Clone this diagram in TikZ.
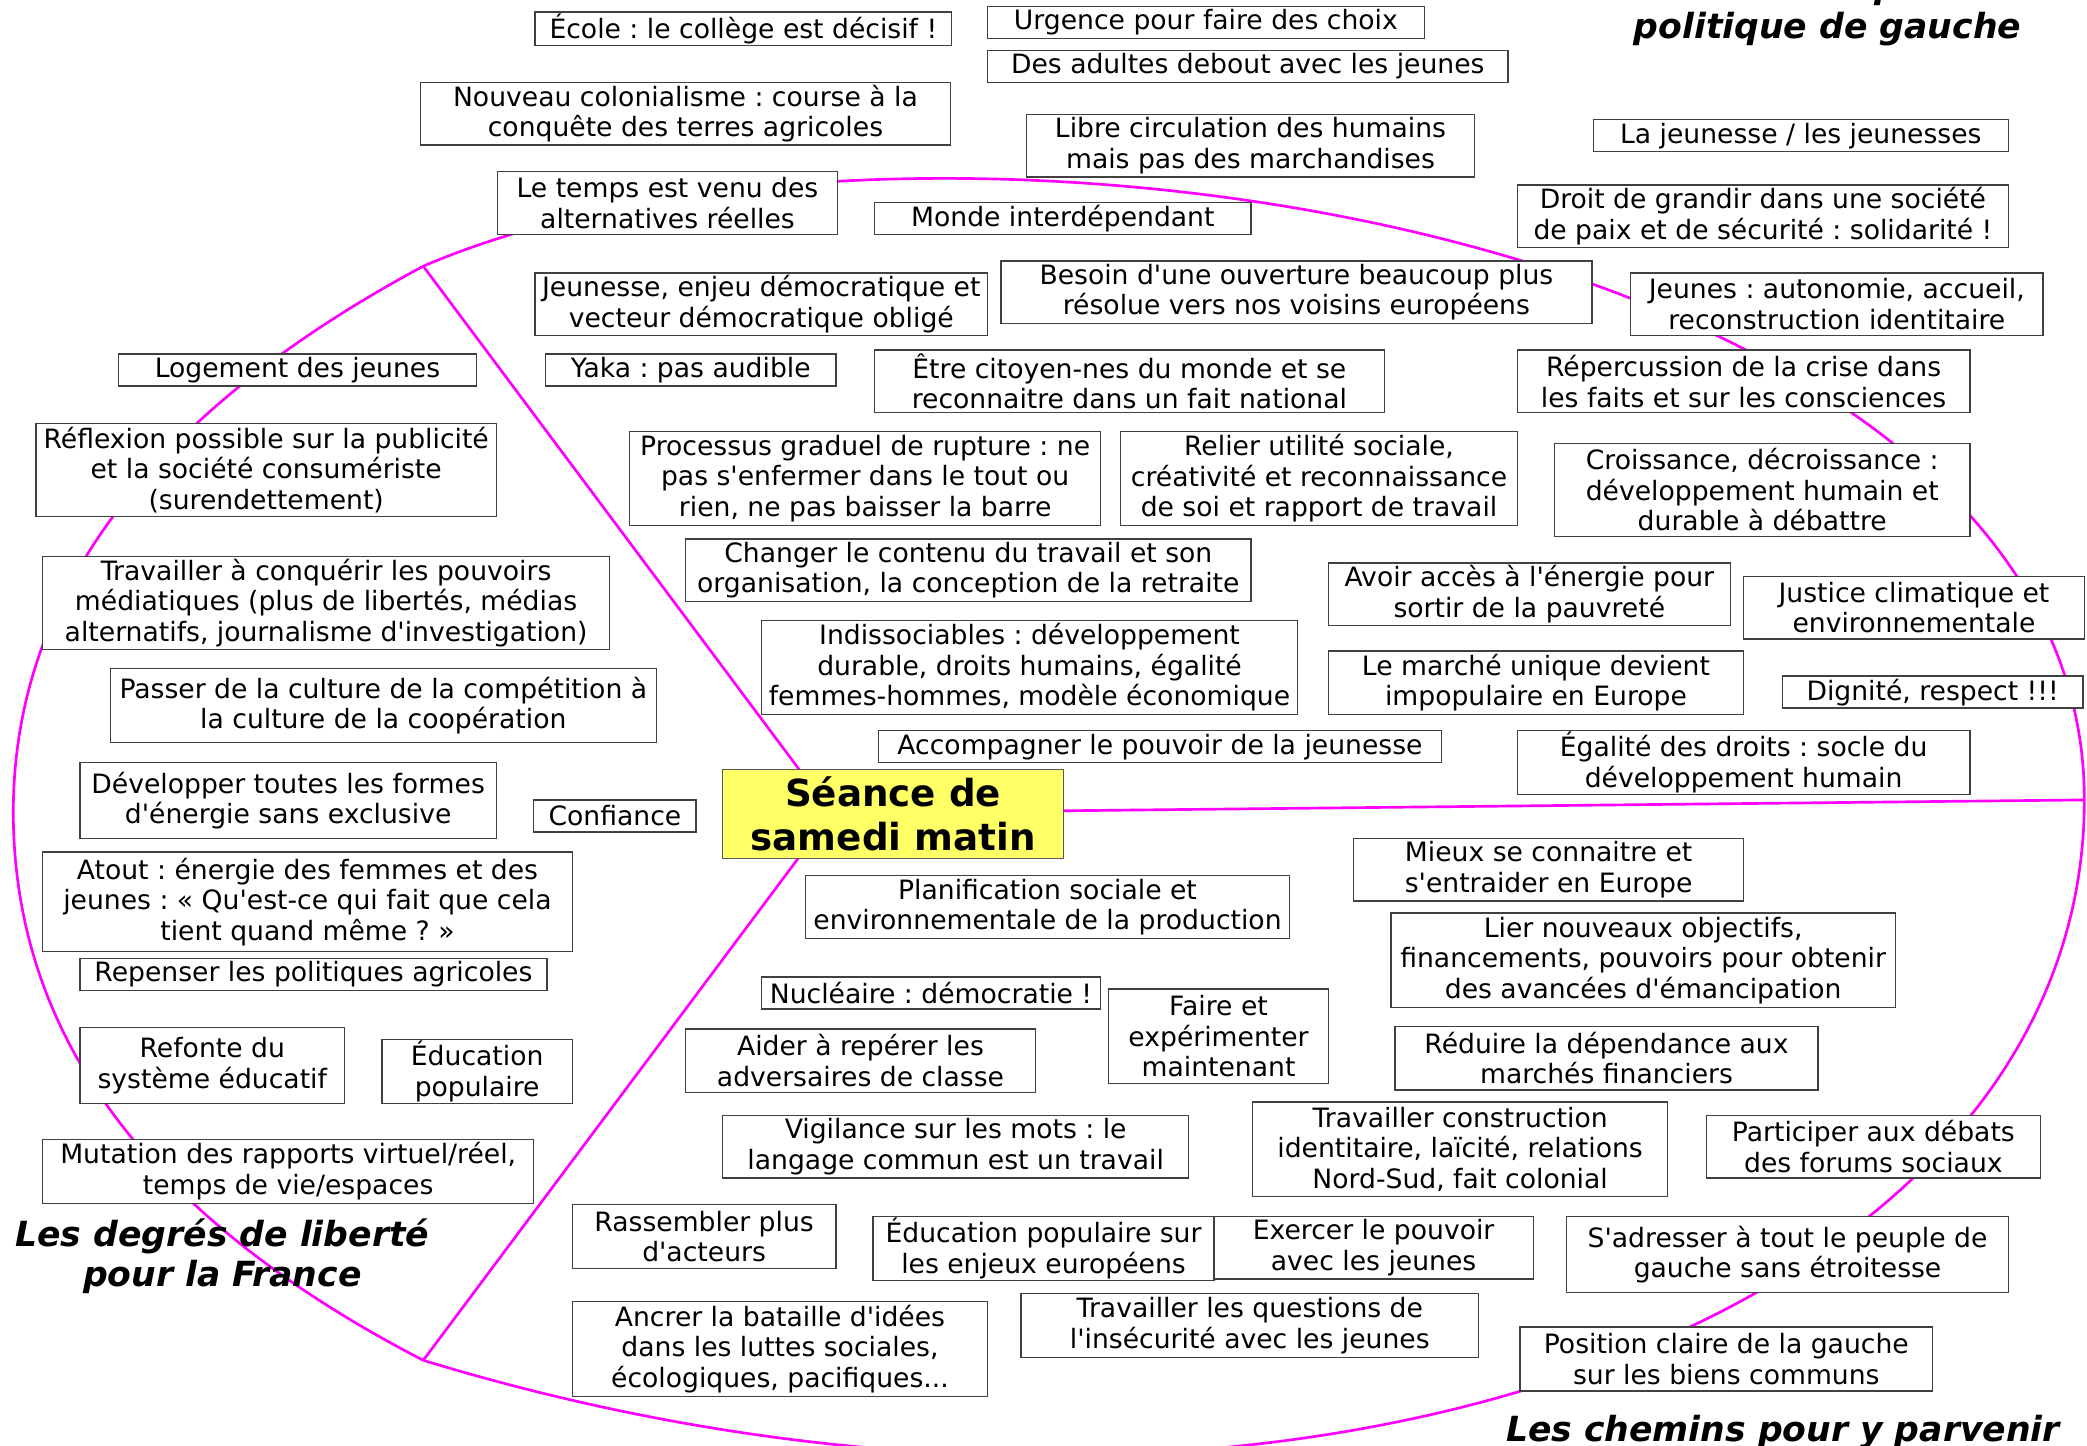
\documentclass[tikz,border=0pt]{standalone}
\usepackage{fontspec}
\setmainfont{DejaVu Sans}[Ligatures=TeXOff, BoldFont={DejaVu Sans Bold}, ItalicFont={DejaVu Sans Oblique}, BoldItalicFont={DejaVu Sans Bold Oblique}]
\definecolor{jaune}{HTML}{FFFF66}
\definecolor{branchecol}{HTML}{FF00FF}
\frenchspacing
\begin{document}
\begin{tikzpicture}[x=1pt, y=-1pt,
  idee/.style 2 args={draw=black!75, line width=1pt, fill=white, align=center, inner xsep=2pt, inner ysep=0pt,
    minimum width=#1pt, minimum height=#2pt, font=\fontsize{20}{23}\selectfont},
  centre/.style={draw=black!65, line width=1pt, fill=jaune, align=center, inner sep=0pt,
    minimum width=256pt, minimum height=67pt, font=\bfseries\fontsize{28}{33}\selectfont},
  titre/.style={align=center, inner sep=0pt, font=\bfseries\itshape\fontsize{26}{30}\selectfont},
  branche/.style={draw=branchecol, line width=2pt}]
\useasboundingbox (0,0) rectangle (1568,1086.4);
\coordinate (jtop) at (318,200);
\coordinate (jright) at (1566,601);
\coordinate (jbot) at (318,1022);
\coordinate (jleft) at (10,610);
\coordinate (hub) at (625,611);
\draw[branche] (jtop) .. controls (690,40) and (1566,170) .. (jright);
\draw[branche] (jright) .. controls (1566,1000) and (950,1215) .. (jbot);
\draw[branche] (jbot) .. controls (140,930) and (10,800) .. (jleft) .. controls (10,420) and (150,290) .. (jtop);
\draw[branche] (hub) -- (jtop);
\draw[branche] (hub) -- (jbot);
\draw[branche] (hub) -- (jright);
\node[idee={313}{25}] (ecole) at (558.5,21.5) {École : le collège est décisif !};
\node[idee={328}{24}] (urgence) at (906,17) {Urgence pour faire des choix};
\node[idee={391}{24}] (adultes) at (937.5,50) {Des adultes debout avec les jeunes};
\node[idee={398}{47}] (colonial) at (515,85.5) {Nouveau colonialisme : course à la\\conquête des terres agricoles};
\node[idee={337}{47}] (circulation) at (939.5,109.5) {Libre circulation des humains\\mais pas des marchandises};
\node[idee={312}{24}] (jeunesses) at (1353,102) {La jeunesse / les jeunesses};
\node[idee={255}{47}] (temps) at (501.5,152.5) {Le temps est venu des\\alternatives réelles};
\node[idee={283}{24}] (monde) at (798.5,164) {Monde interdépendant};
\node[idee={369}{47}] (grandir) at (1324.5,162.5) {Droit de grandir dans une société\\de paix et de sécurité : solidarité !};
\node[idee={340}{47}] (enjeu) at (572,228.5) {Jeunesse, enjeu démocratique et\\vecteur démocratique obligé};
\node[idee={444}{47}] (ouverture) at (974,219.5) {Besoin d'une ouverture beaucoup plus\\résolue vers nos voisins européens};
\node[idee={310}{47}] (autonomie) at (1380,228.5) {Jeunes : autonomie, accueil,\\reconstruction identitaire};
\node[idee={269}{24}] (logement) at (223.5,278) {Logement des jeunes};
\node[idee={218}{24}] (yaka) at (519,278) {Yaka : pas audible};
\node[idee={383}{47}] (citoyen) at (848.5,286.5) {Être citoyen-nes du monde et se\\reconnaitre dans un fait national};
\node[idee={340}{47}] (crise) at (1310,286.5) {Répercussion de la crise dans\\les faits et sur les consciences};
\node[idee={346}{70}] (publicite) at (200,353) {Réflexion possible sur la publicité\\et la société consumériste\\(surendettement)};
\node[idee={354}{71}] (rupture) at (650,359.5) {Processus graduel de rupture : ne\\pas s'enfermer dans le tout ou\\rien, ne pas baisser la barre};
\node[idee={298}{71}] (utilite) at (991,359.5) {Relier utilité sociale,\\créativité et reconnaissance\\de soi et rapport de travail};
\node[idee={312}{70}] (croissance) at (1324,368) {Croissance, décroissance :\\développement humain et\\durable à débattre};
\node[idee={426}{70}] (medias) at (245,453) {Travailler à conquérir les pouvoirs\\médiatiques (plus de libertés, médias\\alternatifs, journalisme d'investigation)};
\node[idee={425}{47}] (travail) at (727.5,428.5) {Changer le contenu du travail et son\\organisation, la conception de la retraite};
\node[idee={302}{47}] (energie) at (1149,446.5) {Avoir accès à l'énergie pour\\sortir de la pauvreté};
\node[idee={256}{47}] (climat) at (1438,456.5) {Justice climatique et\\environnementale};
\node[idee={403}{71}] (indissoc) at (773.5,501.5) {Indissociables : développement\\durable, droits humains, égalité\\femmes-hommes, modèle économique};
\node[idee={410}{56}] (cooperation) at (288,530) {Passer de la culture de la compétition à\\la culture de la coopération};
\node[idee={312}{48}] (marche) at (1154,513) {Le marché unique devient\\impopulaire en Europe};
\node[idee={226}{24}] (dignite) at (1452,520) {Dignité, respect !!!};
\node[idee={423}{24}] (accompagner) at (871.5,561) {Accompagner le pouvoir de la jeunesse};
\node[idee={340}{48}] (egalite) at (1310,573) {Égalité des droits : socle du\\développement humain};
\node[idee={313}{57}] (formes) at (216.5,601.5) {Développer toutes les formes\\d'énergie sans exclusive};
\node[idee={122}{24}] (confiance) at (462,613) {Confiance};
\node[centre] (seance) at (671,611.5) {Séance de\\samedi matin};
\node[idee={293}{47}] (entraider) at (1163.5,653.5) {Mieux se connaitre et\\s'entraider en Europe};
\node[idee={398}{75}] (atout) at (231,677.5) {Atout : énergie des femmes et des\\jeunes : « Qu'est-ce qui fait que cela\\tient quand même ? »};
\node[idee={364}{47}] (planification) at (787,681.5) {Planification sociale et\\environnementale de la production};
\node[idee={379}{71}] (objectifs) at (1234.5,721.5) {Lier nouveaux objectifs,\\financements, pouvoirs pour obtenir\\des avancées d'émancipation};
\node[idee={351}{24}] (agricoles) at (235.5,732) {Repenser les politiques agricoles};
\node[idee={255}{24}] (nucleaire) at (699.5,746) {Nucléaire : démocratie !};
\node[idee={165}{71}] (experimenter) at (915.5,778.5) {Faire et\\expérimenter\\maintenant};
\node[idee={263}{48}] (adversaires) at (646.5,797) {Aider à repérer les\\adversaires de classe};
\node[idee={318}{48}] (dependance) at (1207,795) {Réduire la dépendance aux\\marchés financiers};
\node[idee={199}{57}] (refonte) at (159.5,800.5) {Refonte du\\système éducatif};
\node[idee={143}{48}] (educpop) at (358.5,805) {Éducation\\populaire};
\node[idee={350}{47}] (vigilance) at (718,861.5) {Vigilance sur les mots : le\\langage commun est un travail};
\node[idee={312}{71}] (identitaire) at (1097,863.5) {Travailler construction\\identitaire, laïcité, relations\\Nord-Sud, fait colonial};
\node[idee={251}{47}] (forums) at (1407.5,861.5) {Participer aux débats\\des forums sociaux};
\node[idee={369}{48}] (mutation) at (216.5,880) {Mutation des rapports virtuel/réel,\\temps de vie/espaces};
\node[idee={198}{48}] (rassembler) at (529,929) {Rassembler plus\\d'acteurs};
\node[idee={256}{48}] (educeuro) at (784,938) {Éducation populaire sur\\les enjeux européens};
\node[idee={240}{47}] (exercer) at (1032,937.5) {Exercer le pouvoir\\avec les jeunes};
\node[idee={332}{57}] (peuple) at (1343,942.5) {S'adresser à tout le peuple de\\gauche sans étroitesse};
\node[idee={312}{71}] (ancrer) at (586,1013.5) {Ancrer la bataille d'idées\\dans les luttes sociales,\\écologiques, pacifiques...};
\node[idee={344}{48}] (insecurite) at (939,996) {Travailler les questions de\\l'insécurité avec les jeunes};
\node[idee={310}{48}] (communs) at (1297,1021) {Position claire de la gauche\\sur les biens communs};
\node[titre] (contenus) at (1373,7.5) {Les contenus pour une\\politique de gauche};
\node[titre] (degres) at (167,944) {Les degrés de liberté\\pour la France};
\node[titre] (chemins) at (1339.5,1076) {Les chemins pour y parvenir};
\end{tikzpicture}
\end{document}
